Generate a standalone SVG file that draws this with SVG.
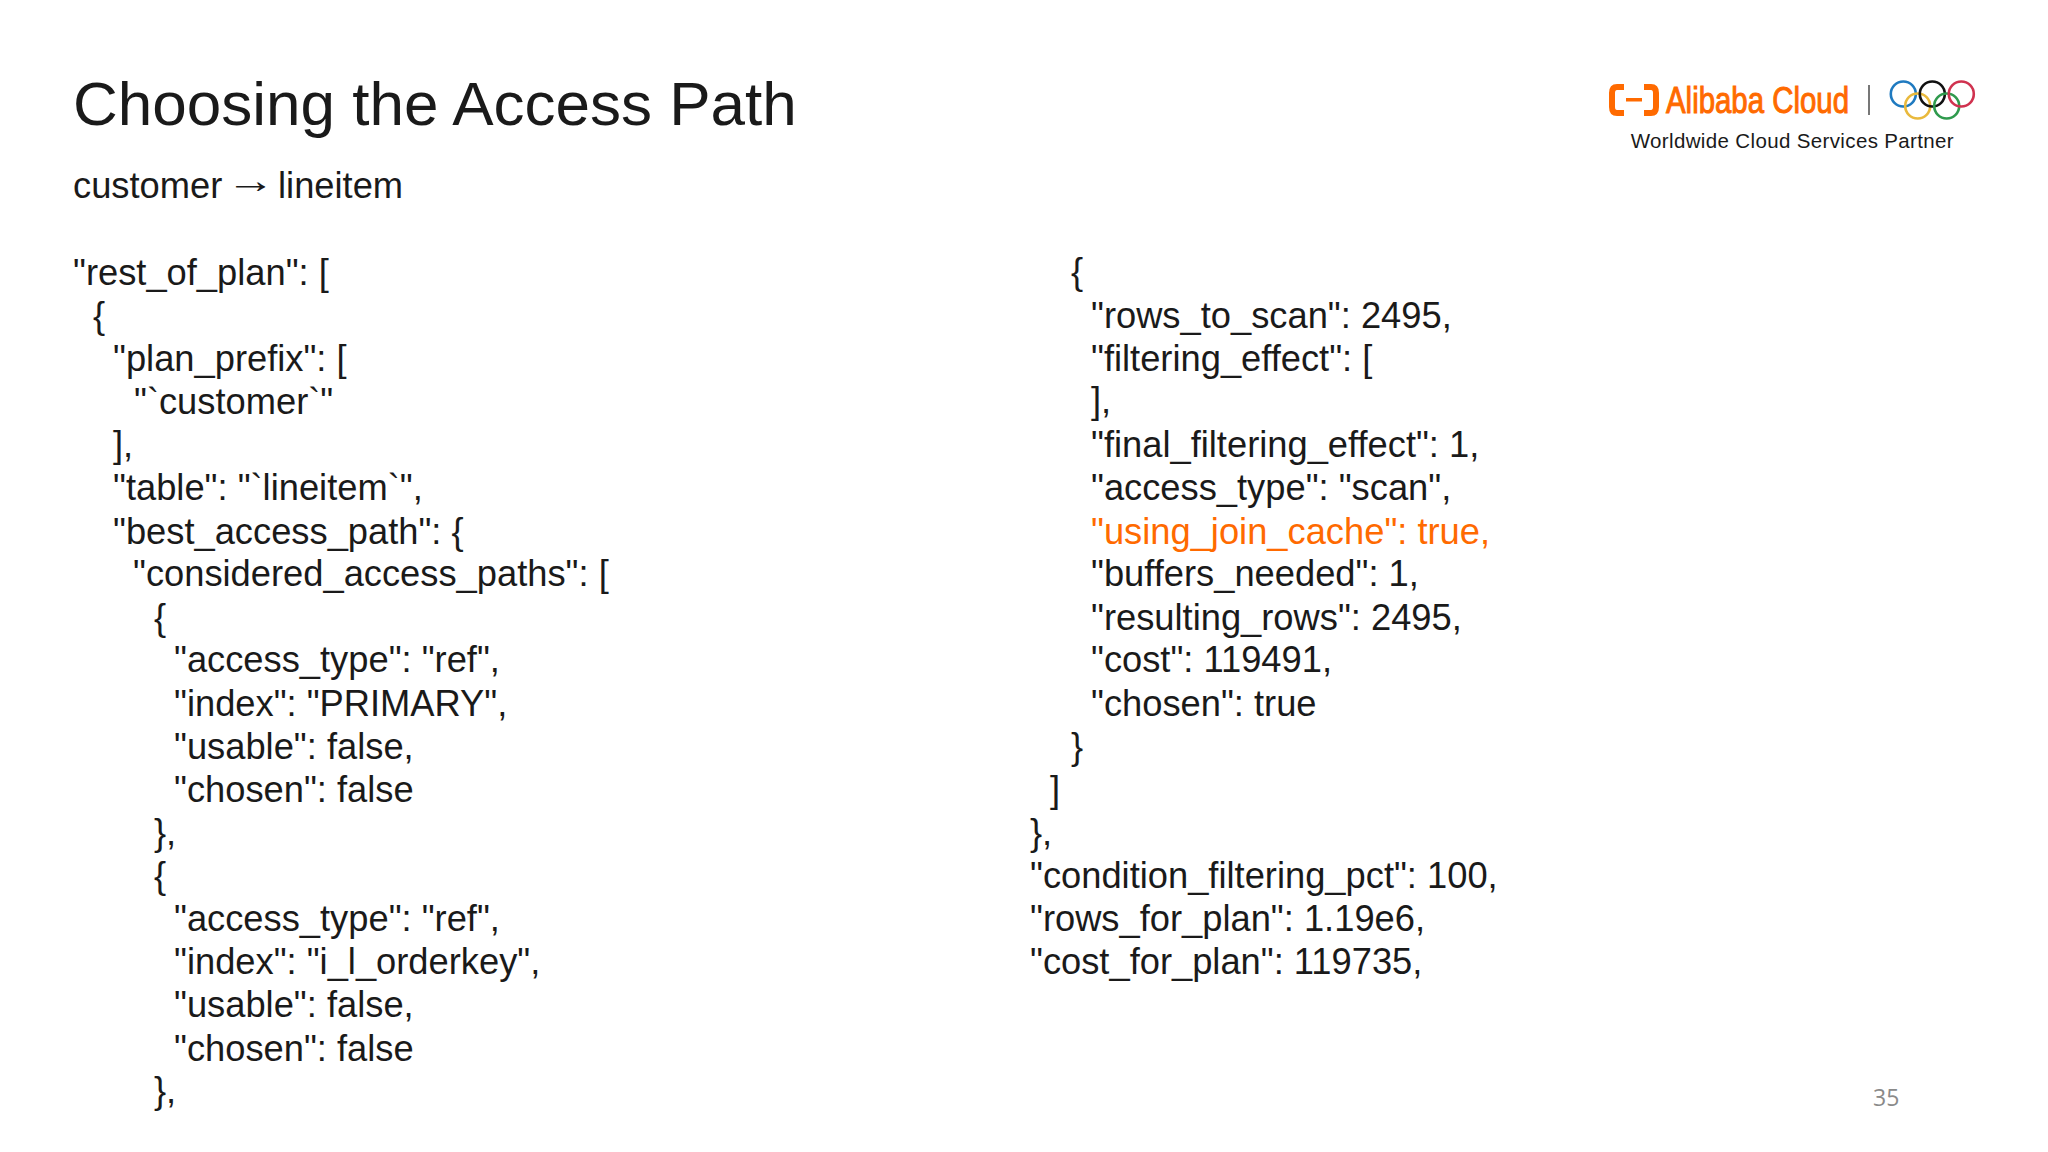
<svg xmlns="http://www.w3.org/2000/svg" width="2048" height="1152" viewBox="0 0 2048 1152">
<style>
text{font-family:"Liberation Sans",Arial,sans-serif;fill:#1a1a1a}
.c{font-size:36.3px;white-space:pre}
.o{fill:#ff6a00}
.r{fill:none;stroke-width:2.6}
</style>
<rect width="2048" height="1152" fill="#fff"/>
<text x="73" y="125" font-size="62">Choosing the Access Path</text>
<text x="73" y="198" font-size="36.3">customer</text>
<text x="226" y="193" font-size="36.3" style="font-family:'Liberation Serif',serif" textLength="49" lengthAdjust="spacingAndGlyphs">→</text>
<text x="278" y="198" font-size="36.3">lineitem</text>
<g class="c">
<text class="c" x="73" y="285">"rest_of_plan": [</text>
<text class="c" x="93" y="328">{</text>
<text class="c" x="113" y="371">"plan_prefix": [</text>
<text class="c" x="134" y="414">"`customer`"</text>
<text class="c" x="113" y="457">],</text>
<text class="c" x="113" y="500">"table": "`lineitem`",</text>
<text class="c" x="113" y="544">"best_access_path": {</text>
<text class="c" x="133" y="586">"considered_access_paths": [</text>
<text class="c" x="154" y="630">{</text>
<text class="c" x="174" y="672">"access_type": "ref",</text>
<text class="c" x="174" y="716">"index": "PRIMARY",</text>
<text class="c" x="174" y="759">"usable": false,</text>
<text class="c" x="174" y="802">"chosen": false</text>
<text class="c" x="154" y="845">},</text>
<text class="c" x="154" y="888">{</text>
<text class="c" x="174" y="931">"access_type": "ref",</text>
<text class="c" x="174" y="974">"index": "i_l_orderkey",</text>
<text class="c" x="174" y="1017">"usable": false,</text>
<text class="c" x="174" y="1061">"chosen": false</text>
<text class="c" x="154" y="1103">},</text>
<text class="c" x="1071" y="284">{</text>
<text class="c" x="1091" y="328">"rows_to_scan": 2495,</text>
<text class="c" x="1091" y="371">"filtering_effect": [</text>
<text class="c" x="1091" y="413">],</text>
<text class="c" x="1091" y="457">"final_filtering_effect": 1,</text>
<text class="c" x="1091" y="500">"access_type": "scan",</text>
<text class="c o" x="1091" y="544">"using_join_cache": true,</text>
<text class="c" x="1091" y="586">"buffers_needed": 1,</text>
<text class="c" x="1091" y="630">"resulting_rows": 2495,</text>
<text class="c" x="1091" y="672">"cost": 119491,</text>
<text class="c" x="1091" y="716">"chosen": true</text>
<text class="c" x="1071" y="759">}</text>
<text class="c" x="1050" y="802">]</text>
<text class="c" x="1030" y="845">},</text>
<text class="c" x="1030" y="888">"condition_filtering_pct": 100,</text>
<text class="c" x="1030" y="931">"rows_for_plan": 1.19e6,</text>
<text class="c" x="1030" y="974">"cost_for_plan": 119735,</text>
</g>
<g id="logo">
<path d="M1624 87H1617Q1612 87 1612 93V107Q1612 113 1617 113H1624M1644 87H1651Q1656 87 1656 93V107Q1656 113 1651 113H1644" fill="none" stroke="#ff6a00" stroke-width="6"/>
<rect x="1626" y="98" width="16" height="3.500" fill="#ff6a00"/>
<text class="o" x="1666" y="112.500" font-size="36" textLength="183" lengthAdjust="spacingAndGlyphs" stroke="#ff6a00" stroke-width="1">Alibaba Cloud</text>
<rect x="1868" y="85" width="2" height="30" fill="#777"/>
<circle class="r" cx="1903.300" cy="94" r="12.500" stroke="#1f7ac0"/>
<circle class="r" cx="1917.700" cy="106" r="12.500" stroke="#e9b93c"/>
<circle class="r" cx="1932.300" cy="94" r="12.500" stroke="#111"/>
<circle class="r" cx="1946.700" cy="106" r="12.500" stroke="#2f9a4d"/>
<circle class="r" cx="1961.300" cy="94" r="12.500" stroke="#d0324f"/>
<text x="1630.700" y="148" font-size="20.500" textLength="323" lengthAdjust="spacing">Worldwide Cloud Services Partner</text>
</g>
<text x="1873" y="1106" font-size="23" style="font-family:'Open Sans',sans-serif;fill:#8a8a8a">35</text>
</svg>
